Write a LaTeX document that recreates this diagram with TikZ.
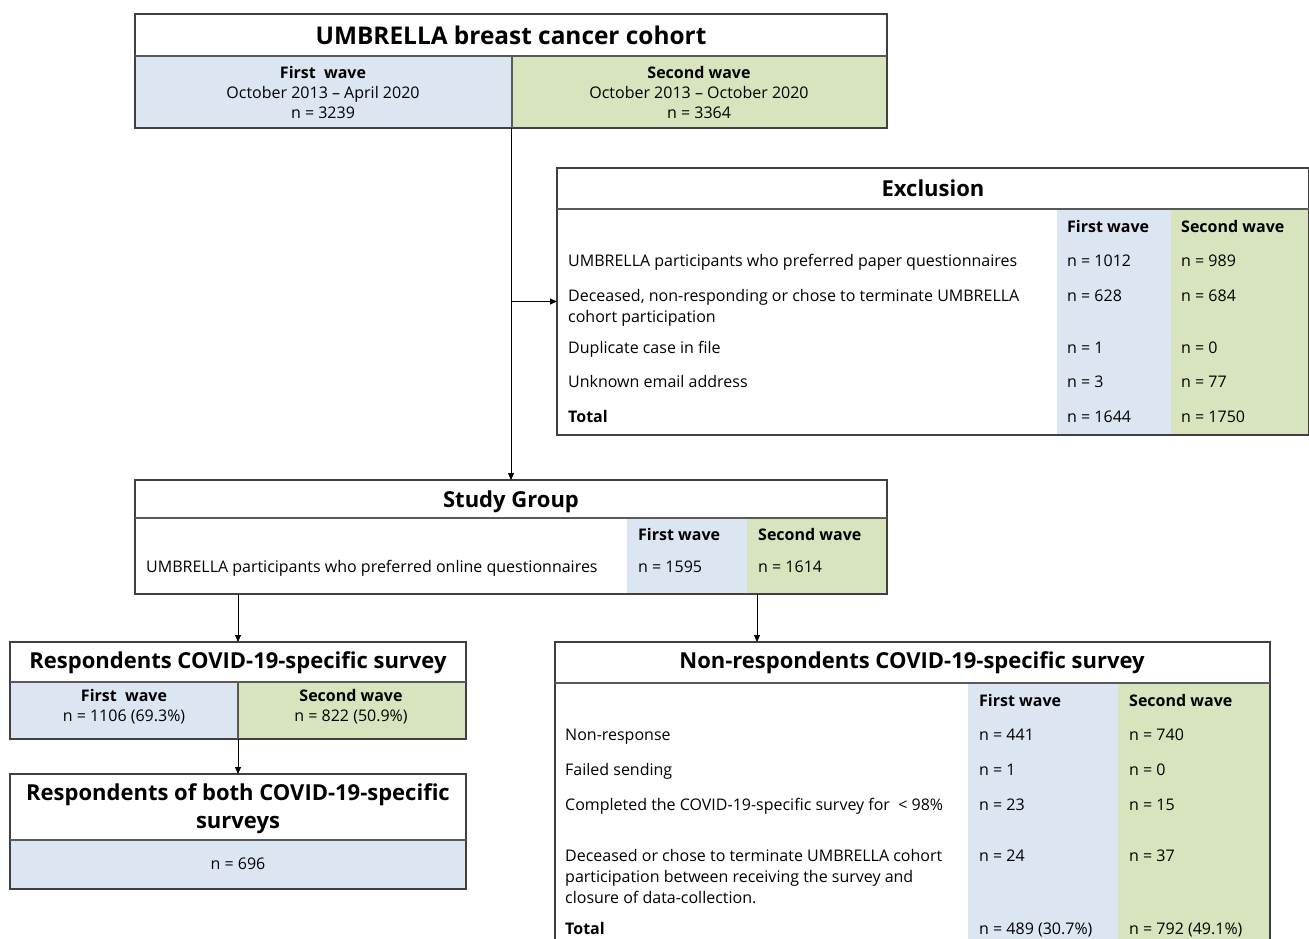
\documentclass[tikz,border=0pt]{standalone}
\usepackage{fontspec}
\setmainfont{Open Sans}
\usetikzlibrary{positioning,arrows.meta}
\definecolor{waveone}{RGB}{220,230,242}
\definecolor{wavetwo}{RGB}{215,228,189}
\tikzset{
  frame/.style={rectangle, draw=black!75, line width=1.3pt, inner sep=0pt, outer sep=0pt},
  colone/.style={rectangle, fill=waveone, inner sep=0pt, outer sep=0pt},
  coltwo/.style={rectangle, fill=wavetwo, inner sep=0pt, outer sep=0pt},
  rule/.style={draw=black!65, line width=1.3pt},
  heading/.style={inner sep=0pt, font={\bfseries\fontsize{22}{28}\selectfont}, align=center},
  bigheading/.style={heading, font={\bfseries\fontsize{24.4}{28}\selectfont}},
  cell/.style={anchor=west, inner sep=0pt, text height=12pt, text depth=0pt, font={\fontsize{16}{21}\selectfont}},
  cellb/.style={cell, font={\bfseries\fontsize{16}{21}\selectfont}},
  cellm/.style={anchor=north west, inner sep=0pt, font={\fontsize{16}{21}\selectfont}, align=left},
  mid/.style={inner sep=0pt, font={\fontsize{16}{20}\selectfont}, align=center},
  link/.style={-{Triangle[length=7pt,width=6pt]}, line width=0.8pt}
}

\begin{document}
\begin{tikzpicture}[x=1pt, y=-1pt]
      \useasboundingbox (0,0) rectangle (1309,939);

      % cohort
      \node[colone, minimum width=377pt, minimum height=72pt] (cohortA) at (323.5,92) {};
      \node[coltwo, minimum width=375pt, minimum height=72pt] (cohortB) at (699.5,92) {};
      \node[frame, minimum width=752pt, minimum height=114pt] (cohort) at (511,71) {};
      \draw[rule] (135,56) -- (887,56);
      \draw[rule] (cohortA.north east) -- (cohortA.south east);
      \node[bigheading] (cohortT) at (511,35) {UMBRELLA breast cancer cohort};
      \node[mid] (cohortAt) at (323,93) {\textbf{First\ \ wave}\\October 2013 -- April 2020\\n = 3239};
      \node[mid] (cohortBt) at (699,93) {\textbf{Second wave}\\October 2013 -- October 2020\\n = 3364};

      % exclusion
      \node[colone, minimum width=114pt, minimum height=226pt] (exclA) at (1114,322) {};
      \node[coltwo, minimum width=138pt, minimum height=226pt] (exclB) at (1240,322) {};
      \node[frame, minimum width=752pt, minimum height=267pt] (excl) at (933,301.5) {};
      \draw[rule] (557,209) -- (1309,209);
      \node[heading] (exclT) at (933,188) {Exclusion};
      \node[cellb] (exclH1) at (1067,226) {First wave};
      \node[cellb] (exclH2) at (1181,226) {Second wave};
      \node[cell] (exclR1) at (568,260) {UMBRELLA participants who preferred paper questionnaires};
      \node[cell] (exclR1a) at (1067,260) {n = 1012};
      \node[cell] (exclR1b) at (1181,260) {n = 989};
      \node[cellm] (exclR2) at (568,289) {Deceased, non-responding or chose to terminate UMBRELLA\\cohort participation};
      \node[cell] (exclR2a) at (1067,295) {n = 628};
      \node[cell] (exclR2b) at (1181,295) {n = 684};
      \node[cell] (exclR3) at (568,347) {Duplicate case in file};
      \node[cell] (exclR3a) at (1067,347) {n = 1};
      \node[cell] (exclR3b) at (1181,347) {n = 0};
      \node[cell] (exclR4) at (568,381) {Unknown email address};
      \node[cell] (exclR4a) at (1067,381) {n = 3};
      \node[cell] (exclR4b) at (1181,381) {n = 77};
      \node[cellb] (exclR5) at (568,416) {Total};
      \node[cell] (exclR5a) at (1067,416) {n = 1644};
      \node[cell] (exclR5b) at (1181,416) {n = 1750};

      % study group
      \node[colone, minimum width=120pt, minimum height=76pt] (studyA) at (687,556) {};
      \node[coltwo, minimum width=140pt, minimum height=76pt] (studyB) at (817,556) {};
      \node[frame, minimum width=752pt, minimum height=114pt] (study) at (511,537) {};
      \draw[rule] (135,518) -- (887,518);
      \node[heading] (studyT) at (511,502) {Study Group};
      \node[cellb] (studyH1) at (638,534) {First wave};
      \node[cellb] (studyH2) at (758,534) {Second wave};
      \node[cell] (studyR1) at (146,566) {UMBRELLA participants who preferred online questionnaires};
      \node[cell] (studyR1a) at (638,566) {n = 1595};
      \node[cell] (studyR1b) at (758,566) {n = 1614};

      % respondents
      \node[colone, minimum width=228pt, minimum height=57pt] (respA) at (124,710.5) {};
      \node[coltwo, minimum width=228pt, minimum height=57pt] (respB) at (352,710.5) {};
      \node[frame, minimum width=456pt, minimum height=97pt] (resp) at (238,690.5) {};
      \draw[rule] (10,682) -- (466,682);
      \draw[rule] (respA.north east) -- (respA.south east);
      \node[heading] (respT) at (238,663) {Respondents COVID-19-specific survey};
      \node[mid] (respAt) at (124,707) {\textbf{First\ \ wave}\\n = 1106 (69.3\%)};
      \node[mid] (respBt) at (351,707) {\textbf{Second wave}\\n = 822 (50.9\%)};

      % both surveys
      \node[colone, minimum width=456pt, minimum height=49pt] (bothA) at (238,864.5) {};
      \node[frame, minimum width=456pt, minimum height=115pt] (both) at (238,831.5) {};
      \draw[rule] (10,840) -- (466,840);
      \node[heading] (bothT) at (238,809) {Respondents of both COVID-19-specific\\surveys};
      \node[mid] (bothAt) at (238,864) {n = 696};

      % non-respondents
      \node[colone, minimum width=150pt, minimum height=262pt] (nonA) at (1043,814) {};
      \node[coltwo, minimum width=152pt, minimum height=262pt] (nonB) at (1194,814) {};
      \node[frame, minimum width=715pt, minimum height=303pt] (non) at (912.5,793.5) {};
      \draw[rule] (555,683) -- (1270,683);
      \node[heading] (nonT) at (912,663) {Non-respondents COVID-19-specific survey};
      \node[cellb] (nonH1) at (979,700) {First wave};
      \node[cellb] (nonH2) at (1129,700) {Second wave};
      \node[cell] (nonR1) at (565,734) {Non-response};
      \node[cell] (nonR1a) at (979,734) {n = 441};
      \node[cell] (nonR1b) at (1129,734) {n = 740};
      \node[cell] (nonR2) at (565,769) {Failed sending};
      \node[cell] (nonR2a) at (979,769) {n = 1};
      \node[cell] (nonR2b) at (1129,769) {n = 0};
      \node[cell] (nonR3) at (565,804) {Completed the COVID-19-specific survey for \ < 98\%};
      \node[cell] (nonR3a) at (979,804) {n = 23};
      \node[cell] (nonR3b) at (1129,804) {n = 15};
      \node[cellm] (nonR4) at (565,849) {Deceased or chose to terminate UMBRELLA cohort\\participation between receiving the survey and\\closure of data-collection.};
      \node[cell] (nonR4a) at (979,855) {n = 24};
      \node[cell] (nonR4b) at (1129,855) {n = 37};
      \node[cellb] (nonR5) at (565,928) {Total};
      \node[cell] (nonR5a) at (979,928) {n = 489 (30.7\%)};
      \node[cell] (nonR5b) at (1129,928) {n = 792 (49.1\%)};

      % connectors
      \draw[link] (cohort.south) -- (study.north);
      \draw[link] (cohort.south |- excl.west) -- (excl.west);
      \draw[link] (resp.north |- study.south) -- (resp.north);
      \draw[link] ([xshift=10pt]studyB.south west) -- ([xshift=10pt]studyB.south west |- non.north);
      \draw[link] (resp.south) -- (both.north);

    \end{tikzpicture}
\end{document}
